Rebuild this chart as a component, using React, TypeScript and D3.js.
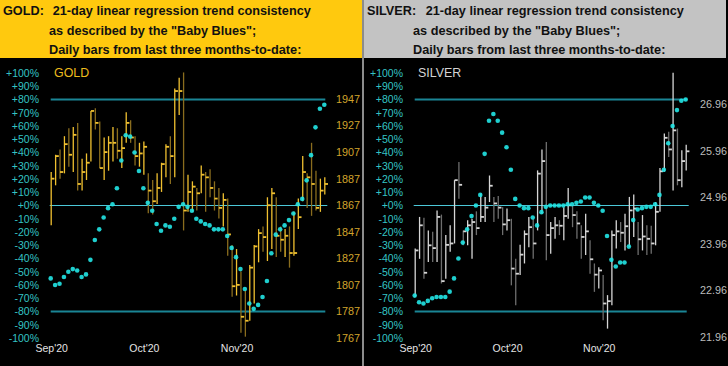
import { scaleLinear, range } from "d3";

// bar index of the first trading day shown under each month label
const monthLabels = ["Sep'20", "Oct'20", "Nov'20"];
const monthIndex = [0, 21, 42];

const pctTicks = range(100, -101, -10);

// GOLD daily bars (high / low / close) and the "Baby Blues" in percent
const goldHigh = [1892, 1905, 1909, 1919, 1925, 1926, 1929, 1902, 1906, 1938, 1940, 1930, 1918, 1919, 1926, 1925, 1919, 1937, 1931, 1919, 1914, 1915, 1891, 1886, 1891, 1899, 1913, 1919, 1955, 1963, 1967, 1890, 1885, 1880, 1897, 1892, 1894, 1885, 1880, 1876, 1872, 1837, 1834, 1817, 1803, 1822, 1837, 1849, 1851, 1873, 1880, 1873, 1851, 1849, 1851, 1862, 1872, 1904, 1891, 1914, 1893, 1887, 1888];
const goldLow = [1852, 1882, 1887, 1891, 1896, 1892, 1878, 1878, 1886, 1900, 1924, 1895, 1886, 1893, 1900, 1902, 1895, 1914, 1914, 1897, 1896, 1890, 1861, 1860, 1868, 1877, 1888, 1883, 1888, 1935, 1848, 1862, 1862, 1863, 1876, 1862, 1873, 1863, 1857, 1851, 1829, 1798, 1799, 1771, 1768, 1780, 1793, 1824, 1832, 1825, 1834, 1828, 1832, 1828, 1820, 1829, 1849, 1870, 1865, 1859, 1863, 1862, 1875];
const goldClose = [1887, 1904, 1892, 1913, 1905, 1920, 1883, 1892, 1899, 1938, 1929, 1895, 1907, 1914, 1914, 1908, 1910, 1929, 1918, 1904, 1906, 1911, 1878, 1870, 1880, 1898, 1911, 1904, 1953, 1953, 1863, 1877, 1881, 1876, 1890, 1888, 1880, 1872, 1865, 1871, 1845, 1806, 1807, 1783, 1780, 1820, 1836, 1846, 1843, 1867, 1876, 1844, 1841, 1844, 1831, 1831, 1858, 1892, 1888, 1883, 1865, 1878, 1883];
const goldBlues = [-55, -60, -59, -54, -50, -48, -49, -54, -52, -41, -26, -18, -9, -2, 1, 13, 34, 53, 52, 40, 26, 13, 2, -4, -14, -19, -15, -16, -10, -1, 1, -1, -4, -10, -12, -14, -15, -18, -18, -18, -23, -32, -39, -48, -63, -74, -78, -75, -69, -57, -36, -22, -18, -15, -11, -6, 1, 5, 19, 38, 59, 73, 76];
const goldPriceTicks = [1947, 1927, 1907, 1887, 1867, 1847, 1827, 1807, 1787, 1767];

// SILVER
const silverHigh = [23.86, 24.54, 24.52, 24.25, 24.22, 24.68, 24.59, 24.15, 24.36, 25.33, 25.72, 24.25, 24.47, 24.5, 24.66, 25.04, 24.97, 25.43, 24.97, 24.99, 24.75, 24.72, 24.5, 23.64, 23.94, 24.25, 24.54, 24.5, 25.54, 25.99, 26.15, 24.43, 24.54, 24.47, 24.75, 25.16, 24.79, 24.66, 24.36, 24.61, 24.04, 23.54, 23.46, 23.29, 22.86, 24.25, 24.47, 24.43, 24.61, 24.97, 25.02, 24.43, 24.58, 24.36, 24.35, 24.86, 25.59, 26.33, 26.37, 27.64, 26.44, 25.97, 26.09];
const silverLow = [22.82, 23.64, 23.21, 23.57, 23.57, 23.57, 23.11, 23.21, 23.79, 23.97, 24.93, 23.93, 23.93, 23.64, 24.15, 24.43, 24.43, 24.86, 24.43, 24.5, 24.15, 24.25, 23.07, 22.64, 23.29, 23.54, 23.89, 23.64, 24.25, 24.61, 23.61, 23.75, 24.07, 24.15, 24.04, 24.5, 24.32, 24.07, 23.64, 23.72, 23.32, 22.93, 23.0, 22.32, 22.14, 22.64, 23.86, 24.0, 23.82, 23.89, 24.11, 23.72, 23.82, 23.72, 23.75, 23.93, 24.65, 25.51, 25.83, 25.11, 25.22, 25.18, 25.54];
const silverClose = [23.82, 24.36, 23.34, 23.93, 23.87, 24.54, 23.16, 23.94, 23.97, 25.33, 25.23, 24.23, 24.36, 24.43, 24.3, 24.54, 24.74, 25.21, 24.83, 24.74, 24.38, 24.47, 23.43, 23.32, 23.73, 24.17, 24.32, 23.97, 25.47, 25.74, 24.15, 24.3, 24.36, 24.35, 24.56, 24.79, 24.58, 24.4, 24.11, 24.23, 23.63, 23.3, 23.39, 22.68, 22.73, 24.15, 24.23, 24.2, 24.34, 24.68, 24.72, 24.06, 24.12, 24.07, 23.97, 24.65, 25.52, 26.24, 25.99, 26.4, 25.33, 25.74, 25.95];
const silverBlues = [-68, -73, -74, -72, -70, -69, -69, -69, -65, -55, -40, -28, -18, -8, 0, 8, 39, 64, 69, 64, 55, 44, 27, 5, 0, -2, -2, -9, -15, -5, -1, 0, 0, 0, 0, 1, 1, 2, 3, 6, 6, 2, 0, -4, -23, -41, -46, -43, -43, -31, -11, -3, -2, -1, -1, 1, 8, 27, 47, 60, 72, 79, 80];
const silverPriceTicks = [26.96, 25.96, 24.96, 23.96, 22.96, 21.96];

const FONT = "'Liberation Sans', Arial, sans-serif";

type PanelProps = {
    x0: number;
    name: string;
    high: number[];
    low: number[];
    close: number[];
    blues: number[];
    priceTicks: number[];
    priceDomain: [number, number];
    priceRange: [number, number];
    fmt: (v: number) => string;
    barColor: string;
    barDim: string;
    nameColor: string;
    priceColor: string;
    headerFill: string;
    titleGap: number;
    xRange: [number, number];
};

const Panel = (p: PanelProps) => {
    const x = scaleLinear().domain([0, p.close.length - 1]).range(p.xRange);
    const y = scaleLinear().domain([-100, 100]).range([338, 73]);
    const yPrice = scaleLinear().domain(p.priceDomain).range(p.priceRange);
    const o = p.x0;

    return (
        <g>
            {/* header */}
            <rect x={o} y={0} width={362} height={58} fill={p.headerFill} />
            <g fontFamily={FONT} fontWeight="bold" fontSize={12.7} fill="#111">
                <text x={o + 3} y={15}>{p.name}:</text>
                <text x={o + p.titleGap} y={15}>21-day linear regression trend consistency</text>
                <text x={o + 49} y={34.5}>as described by the "Baby Blues";</text>
                <text x={o + 49} y={54}>Daily bars from last three months-to-date:</text>
            </g>

            {/* chart body */}
            <rect x={o} y={58} width={362} height={308} fill="#000" />

            <text x={o + 54} y={77} fontFamily={FONT} fontSize={12.4} fill={p.nameColor}>{p.name}</text>

            {pctTicks.map((t) => (
                <text key={t} x={o + 39} y={y(t)} dy="0.36em" textAnchor="end"
                    fontFamily={FONT} fontSize={10.5} fill="#34c4c4">
                    {(t >= 0 ? "+" : "") + t + "%"}
                </text>
            ))}

            {p.priceTicks.map((t) => (
                <text key={t} x={o + 336} y={yPrice(t)} dy="0.36em"
                    fontFamily={FONT} fontSize={10.8} fill={p.priceColor}>
                    {p.fmt(t)}
                </text>
            ))}

            {monthLabels.map((m, i) => (
                <text key={m} x={x(monthIndex[i]) + 1} y={352} textAnchor="middle"
                    fontFamily={FONT} fontSize={10.5} fill="#e4e4e4">
                    {m}
                </text>
            ))}

            {/* reference lines at +80 / 0 / -80 */}
            <line x1={x(0)} x2={x(p.close.length - 1) + 1} y1={y(80)} y2={y(80)} stroke="#1a8595" strokeWidth={2} />
            <line x1={x(0)} x2={x(p.close.length - 1) + 1} y1={y(-80)} y2={y(-80)} stroke="#1a8595" strokeWidth={2} />
            <line x1={x(0) - 1} x2={x(p.close.length - 1) + 3} y1={y(0)} y2={y(0)} stroke="#4cc8d8" strokeWidth={1.2} />

            {/* daily bars */}
            {p.close.map((c, i) => {
                const down = i > 0 && c < p.close[i - 1];
                const bx = x(i) + 0.5;
                return (
                    <g key={i}>
                        <line x1={bx} x2={bx} y1={yPrice(p.high[i])} y2={yPrice(p.low[i])}
                            stroke={down ? p.barDim : p.barColor} strokeWidth={1.3} />
                        <line x1={bx} x2={bx + 3.2} y1={yPrice(c)} y2={yPrice(c)}
                            stroke={p.barColor} strokeWidth={1.8} />
                    </g>
                );
            })}

            {/* baby blues */}
            {p.blues.map((b, i) => (
                <circle key={i} cx={x(i)} cy={y(b)} r={2.3} fill="#22e6e6" fillOpacity={0.9} />
            ))}
        </g>
    );
};

export default function App() {
    return (
        <svg width={728} height={366} style={{ position: "absolute", left: 0, top: 0, background: "#000" }}>
            <Panel
                x0={0}
                name="GOLD"
                high={goldHigh}
                low={goldLow}
                close={goldClose}
                blues={goldBlues}
                priceTicks={goldPriceTicks}
                priceDomain={[1767, 1947]}
                priceRange={[338, 99]}
                fmt={(v) => String(v)}
                barColor="#f0c030"
                barDim="#8a6d1e"
                nameColor="#ecbc1c"
                priceColor="#d2a42c"
                headerFill="#ffc90e"
                titleGap={52.7}
                xRange={[50.7, 324.3]}
            />
            <Panel
                x0={364}
                name="SILVER"
                high={silverHigh}
                low={silverLow}
                close={silverClose}
                blues={silverBlues}
                priceTicks={silverPriceTicks}
                priceDomain={[21.96, 26.96]}
                priceRange={[337, 104.3]}
                fmt={(v) => v.toFixed(2)}
                barColor="#d6d6d6"
                barDim="#6e6e6e"
                nameColor="#d4d4d4"
                priceColor="#bcbcbc"
                headerFill="#c3c3c3"
                titleGap={61.7}
                xRange={[414.7, 685.7]}
            />
            {/* divider between panels */}
            <rect x={362} y={0} width={2} height={366} fill="#8c8c8c" />
        </svg>
    );
}
